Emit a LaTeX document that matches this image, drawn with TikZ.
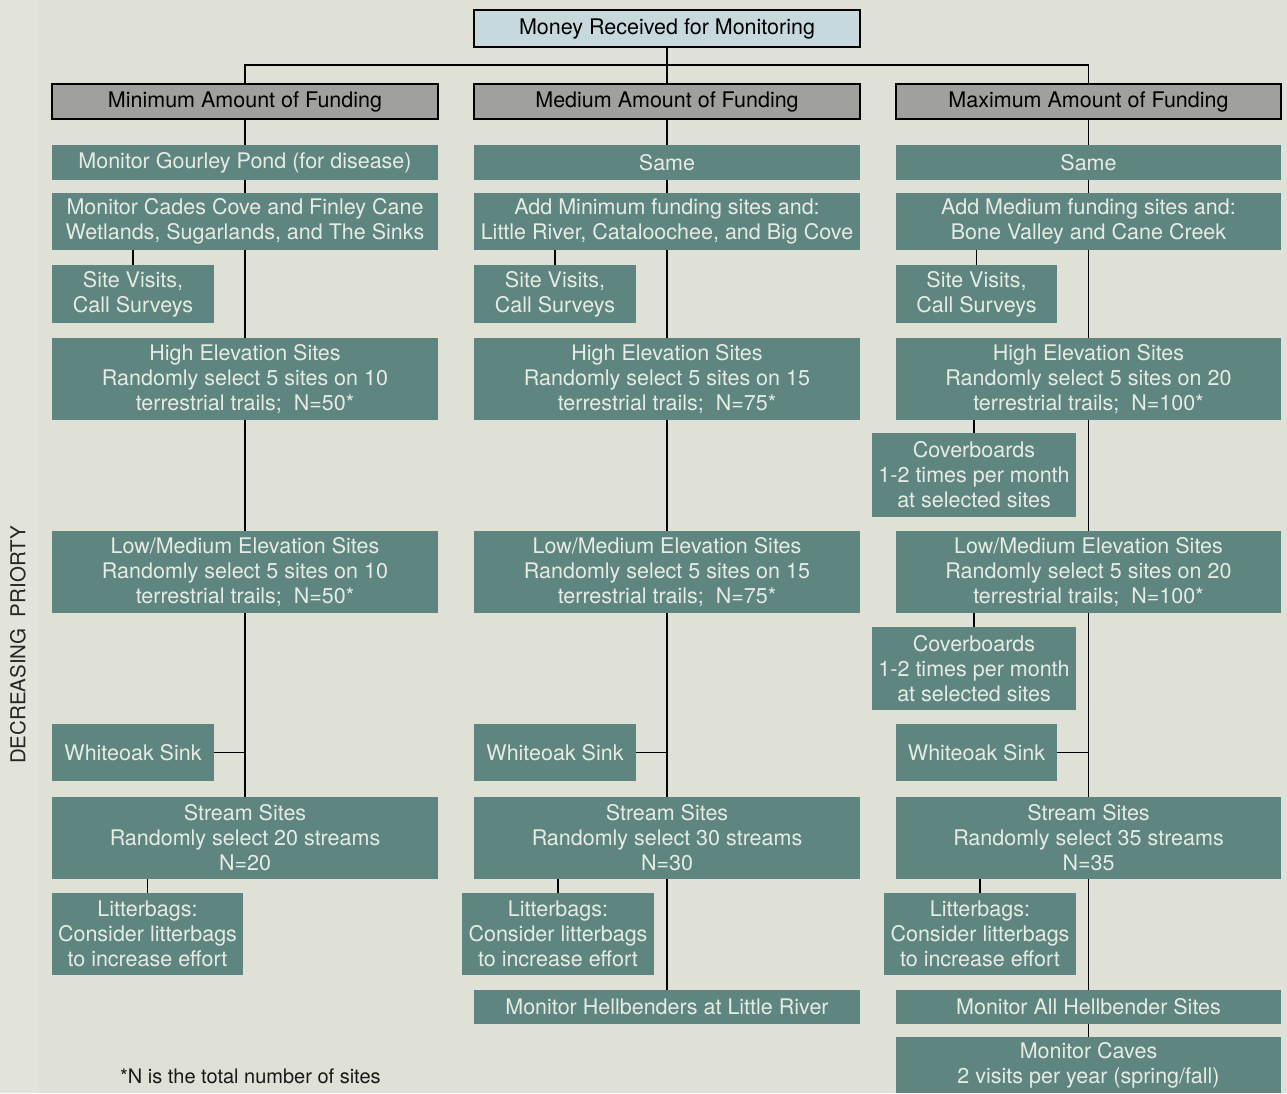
\documentclass[tikz,border=0pt]{standalone}
\usepackage{fontspec}
\setmainfont{TeX Gyre Heros}
\definecolor{bgc}{RGB}{223,224,214}
\definecolor{boxc}{RGB}{94,133,127}
\definecolor{boxtxt}{RGB}{230,235,228}
\definecolor{hdc}{RGB}{160,160,156}
\definecolor{topc}{RGB}{200,217,221}
\newcommand\bx[7][tb]{\node[#1, minimum width={(#4-#2)*1pt}, minimum height={(#5-#3)*1pt}] (#6) at ({(#2+#4)/2},{(#3+#5)/2}) {#7};}
\begin{document}
\begin{tikzpicture}[x=1pt,y=-1pt,
  tb/.style={fill=boxc, text=boxtxt, align=center, inner sep=0pt, font=\fontsize{21.5}{25}\selectfont},
  hd/.style={fill=hdc, draw=black, line width=1.5pt, text=black, align=center, inner sep=0pt, font=\fontsize{21.5}{25}\selectfont},
  tp/.style={hd, fill=topc},
  ln/.style={line width=1.4pt, draw=black}]
\useasboundingbox (0,0) rectangle (1287,1093);
\fill[bgc] (0,0) rectangle (1287,1093);
\fill[white, opacity=0.12] (0,0) rectangle (38,1093);

% top
\bx[tp]{474}{10}{860}{47}{top}{Money Received for Monitoring}
\coordinate (bar) at (667,65);
% headers
\bx[hd]{52}{84}{438}{119}{h1}{Minimum Amount of Funding}
\bx[hd]{474}{84}{860}{119}{h2}{Medium Amount of Funding}
\bx[hd]{896}{84}{1281}{119}{h3}{Maximum Amount of Funding}

% column 1
\bx{52}{145}{438}{180}{g1}{Monitor Gourley Pond (for disease)}
\bx{52}{193}{438}{250}{a1}{Monitor Cades Cove and Finley Cane\\Wetlands, Sugarlands, and The Sinks}
\bx{52}{265}{214}{323}{sv1}{Site Visits,\\Call Surveys}
\bx{52}{338}{438}{420}{hi1}{High Elevation Sites\\Randomly select 5 sites on 10\\terrestrial trails;\ \ N=50*}
\bx{52}{531}{438}{613}{lo1}{Low/Medium Elevation Sites\\Randomly select 5 sites on 10\\terrestrial trails;\ \ N=50*}
\bx{52}{724}{214}{781}{w1}{Whiteoak Sink}
\bx{52}{797}{438}{879}{st1}{Stream Sites\\Randomly select 20 streams\\N=20}
\bx{52}{893}{243}{975}{lb1}{Litterbags:\\Consider litterbags\\to increase effort}

% column 2
\bx{474}{145}{860}{180}{g2}{Same}
\bx{474}{193}{860}{250}{a2}{Add Minimum funding sites and:\\Little River, Cataloochee, and Big Cove}
\bx{474}{265}{636}{323}{sv2}{Site Visits,\\Call Surveys}
\bx{474}{338}{860}{420}{hi2}{High Elevation Sites\\Randomly select 5 sites on 15\\terrestrial trails;\ \ N=75*}
\bx{474}{531}{860}{613}{lo2}{Low/Medium Elevation Sites\\Randomly select 5 sites on 15\\terrestrial trails;\ \ N=75*}
\bx{474}{724}{636}{781}{w2}{Whiteoak Sink}
\bx{474}{797}{860}{879}{st2}{Stream Sites\\Randomly select 30 streams\\N=30}
\bx{462}{893}{654}{975}{lb2}{Litterbags:\\Consider litterbags\\to increase effort}
\bx{474}{990}{860}{1024}{hb2}{Monitor Hellbenders at Little River}

% column 3
\bx{896}{145}{1281}{180}{g3}{Same}
\bx{896}{193}{1281}{250}{a3}{Add Medium funding sites and:\\Bone Valley and Cane Creek}
\bx{896}{265}{1057}{323}{sv3}{Site Visits,\\Call Surveys}
\bx{896}{338}{1281}{420}{hi3}{High Elevation Sites\\Randomly select 5 sites on 20\\terrestrial trails;\ \ N=100*}
\bx{872}{433}{1076}{517}{cv1}{Coverboards\\1-2 times per month\\at selected sites}
\bx{896}{531}{1281}{613}{lo3}{Low/Medium Elevation Sites\\Randomly select 5 sites on 20\\terrestrial trails;\ \ N=100*}
\bx{872}{627}{1076}{710}{cv2}{Coverboards\\1-2 times per month\\at selected sites}
\bx{896}{724}{1057}{781}{w3}{Whiteoak Sink}
\bx{896}{797}{1281}{879}{st3}{Stream Sites\\Randomly select 35 streams\\N=35}
\bx{884}{893}{1076}{975}{lb3}{Litterbags:\\Consider litterbags\\to increase effort}
\bx{896}{990}{1281}{1024}{hb3}{Monitor All Hellbender Sites}
\bx{896}{1037}{1281}{1093}{cave}{Monitor Caves\\2 visits per year (spring/fall)}

% connectors
\draw[ln] (top.south) -- (top.south |- bar);
\draw[ln] (h1.north) -- (h1.north |- bar) -- (h3.north |- bar) -- (h3.north);
\draw[ln] (h2.north) -- (h2.north |- bar);
\foreach \c in {1,2,3}{
  \draw[ln] (h\c.south) -- (g\c.north);
  \draw[ln] (g\c.south) -- (a\c.north);
  \draw[ln] (a\c.south) -- (hi\c.north);
  \draw[ln] (lo\c.south) -- (st\c.north);
  \draw[ln] (a\c.south -| sv\c.north) -- (sv\c.north);
  \draw[ln] (w\c.east) -- (w\c.east -| st\c.north);
  \draw[ln] (st\c.south -| lb\c.north) -- (lb\c.north);
}
\draw[ln] (hi1.south) -- (lo1.north);
\draw[ln] (hi2.south) -- (lo2.north);
\draw[ln] (hi3.south) -- (lo3.north);
\draw[ln] (hi3.south -| cv1.north) -- (cv1.north);
\draw[ln] (lo3.south -| cv2.north) -- (cv2.north);
\draw[ln] (st2.south) -- (hb2.north);
\draw[ln] (st3.south) -- (hb3.north);
\draw[ln] (hb3.south) -- (cave.north);

% side label and footnote
\node[rotate=90, text=black!85, font=\fontsize{20.5}{22}\selectfont, inner sep=0pt] (side) at (18,645) {DECREASING\ \ PRIORTY};
\node[anchor=base west, text=black!90, font=\fontsize{20}{22}\selectfont, inner sep=0pt] (foot) at (120,1083) {*N is the total number of sites};
\end{tikzpicture}
\end{document}
